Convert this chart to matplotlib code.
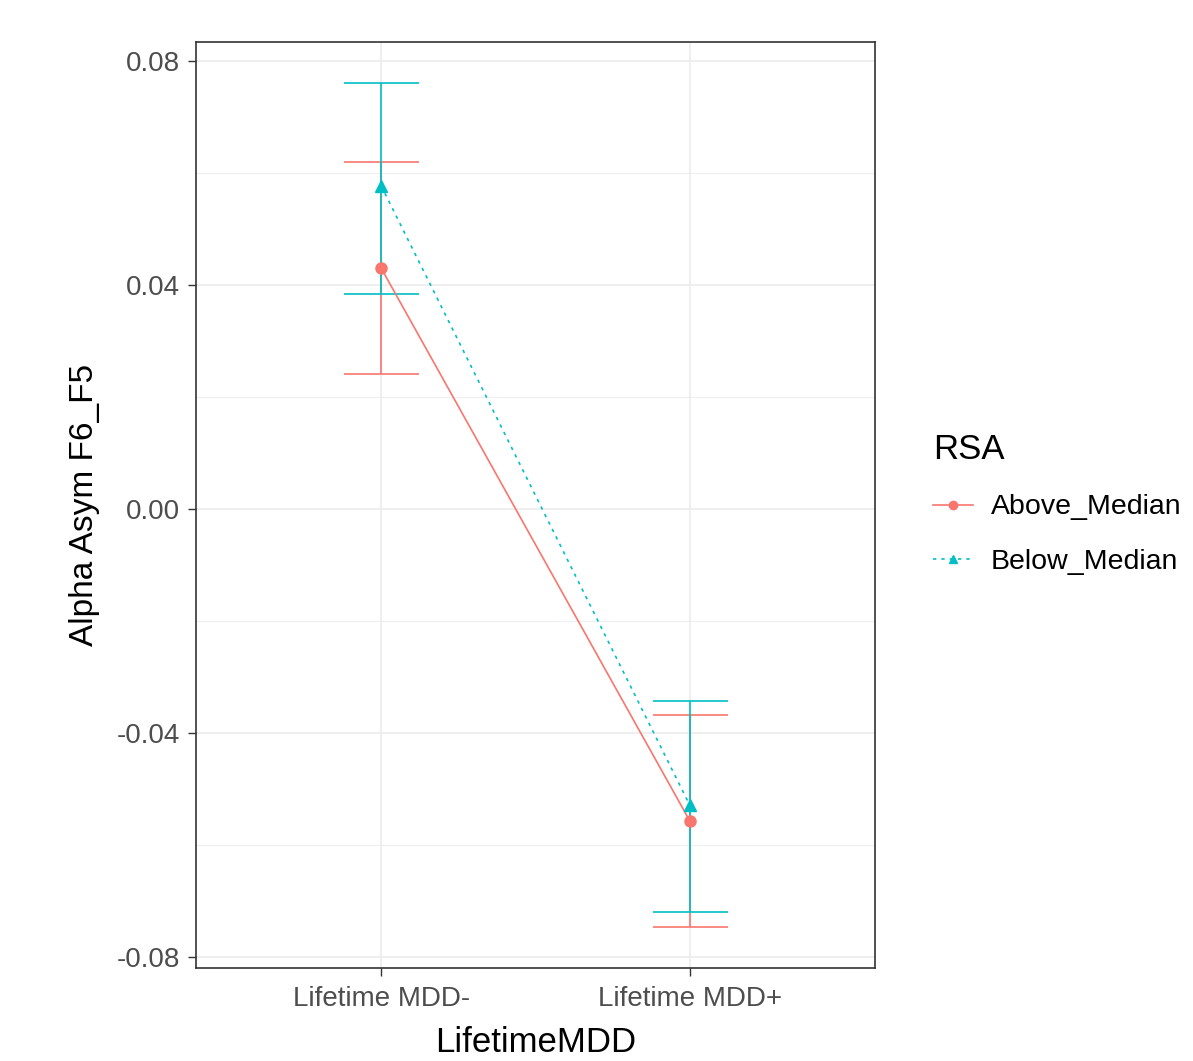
import matplotlib.pyplot as plt
import numpy as np
from matplotlib.ticker import MultipleLocator

plt.rcParams['font.family'] = ['Liberation Sans', 'DejaVu Sans']

groups = ['Lifetime MDD-', 'Lifetime MDD+']
series = ['Above_Median', 'Below_Median']
means = {'Above_Median': [0.0430, -0.0557],
         'Below_Median': [0.0577, -0.0529]}
upper = {'Above_Median': [0.0620, -0.0368],
         'Below_Median': [0.0761, -0.0343]}
lower = {'Above_Median': [0.0241, -0.0746],
         'Below_Median': [0.0384, -0.0720]}

colors = {'Above_Median': '#F8766D', 'Below_Median': '#00BFC4'}
markers = {'Above_Median': 'o', 'Below_Median': '^'}
styles = {'Above_Median': '-', 'Below_Median': (0, (2, 3))}

fig = plt.figure(figsize=(11.93, 10.61), dpi=100)
ax = fig.add_axes([196/1193, 1-968/1061, (875-196)/1193, (968-42)/1061])

x = np.arange(len(groups)) + 1
for s in series:
    m = np.array(means[s])
    up = np.array(upper[s])
    lo = np.array(lower[s])
    ax.errorbar(x, m, yerr=[m - lo, up - m], fmt='none', ecolor=colors[s],
                elinewidth=1.2, capsize=27, capthick=1.2, zorder=3)
    ax.plot(x, m, linestyle=styles[s], color=colors[s], lw=1.2,
            marker=markers[s], ms=8, label=s, zorder=4)

ax.set_xlim(0.4, 2.6)
ax.set_ylim(-0.08196, 0.08339)
ax.set_xticks(x)
ax.set_xticklabels(groups)
ax.yaxis.set_minor_locator(MultipleLocator(0.02))
ax.set_yticks([-0.08, -0.04, 0.0, 0.04, 0.08])
ax.set_yticklabels(['-0.08', '-0.04', '0.00', '0.04', '0.08'])

ax.grid(which='major', color='#EBEBEB', lw=1.1, zorder=0)
ax.grid(which='minor', axis='y', color='#EBEBEB', lw=0.6, zorder=0)
ax.set_axisbelow(True)
ax.tick_params(which='major', length=5.8, width=1, color='#333333',
               labelsize=20, labelcolor='#4D4D4D')
ax.tick_params(axis='x', pad=7.5)
ax.tick_params(axis='y', pad=5.5)
ax.tick_params(which='minor', length=0)
for sp in ax.spines.values():
    sp.set_color('#333333')
    sp.set_linewidth(1.2)

ax.set_xlabel('LifetimeMDD', fontsize=25, labelpad=10)
ax.set_ylabel('Alpha Asym F6_F5', fontsize=24, labelpad=12)

leg = fig.legend(loc='center left', bbox_to_anchor=(0.761, 0.525), frameon=False,
                 title='RSA', fontsize=20.5, title_fontsize=25, handlelength=1.4,
                 handletextpad=0.6, markerscale=0.75, labelspacing=1.0,
                 alignment='left')

fig.savefig('out.png', dpi=100)
